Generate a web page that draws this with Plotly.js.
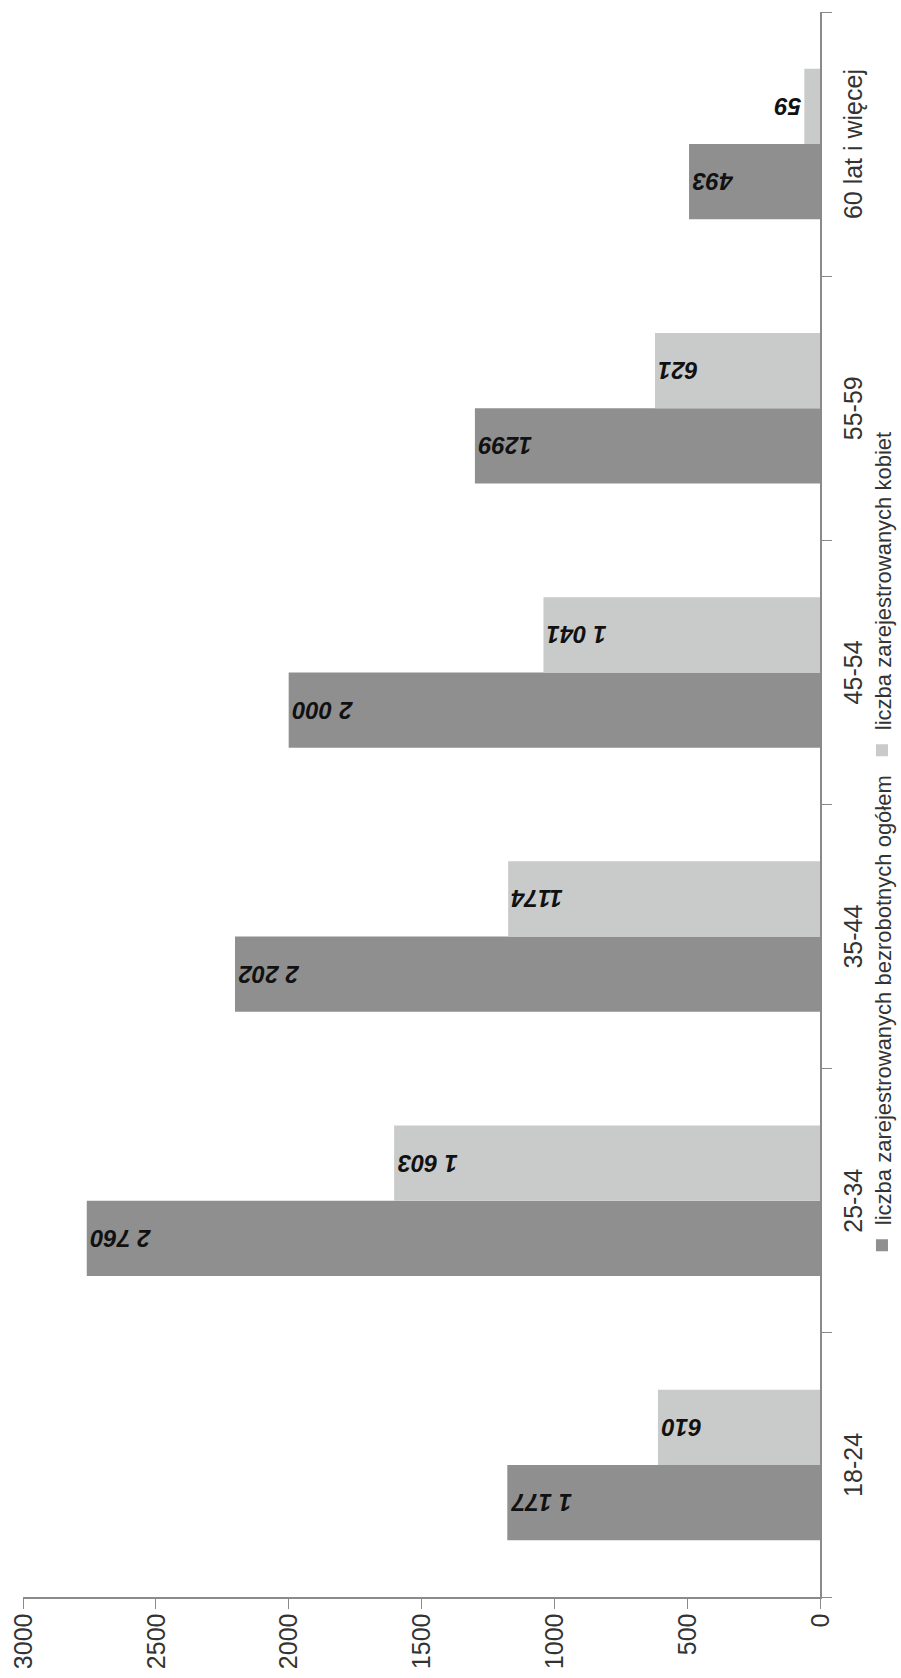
<!DOCTYPE html>
<html>
<head>
<meta charset="utf-8">
<script src="https://cdn.plot.ly/plotly-3.0.1.min.js"></script>
<style>
  html, body { margin: 0; padding: 0; background: #ffffff; overflow: hidden; }
  body { width: 901px; height: 1678px; position: relative; }
  #chart {
    position: absolute;
    left: 0px;
    top: 1678px;
    width: 1678px;
    height: 901px;
    transform: rotate(-90deg);
    transform-origin: 0 0;
  }
</style>
</head>
<body>
<div id="chart"></div>
<script>
// ---- data ----
const categories = ["18-24", "25-34", "35-44", "45-54", "55-59", "60 lat i więcej"];
const totalValues = [1177, 2760, 2202, 2000, 1299, 493];
const womenValues = [610, 1603, 1174, 1041, 621, 59];
const totalLabels = ["1 177", "2 760", "2 202", "2 000", "1299", "493"];
const womenLabels = ["610", "1 603", "1174", "1 041", "621", "59"];
const seriesNames = ["liczba zarejestrowanych bezrobotnych ogółem", "liczba zarejestrowanych kobiet"];
const valueTicks = [0, 500, 1000, 1500, 2000, 2500, 3000];

const FONT = "Liberation Sans, Arial, sans-serif";
const labelFont = { family: FONT, size: 24, color: "#111111", weight: "bold", style: "italic" };

const traces = [
  {
    type: "bar",
    name: seriesNames[0],
    x: categories,
    y: totalValues,
    text: totalLabels,
    textposition: "auto",
    insidetextanchor: "end",
    textangle: -90,
    constraintext: "none",
    textfont: labelFont,
    insidetextfont: labelFont,
    outsidetextfont: labelFont,
    marker: { color: "#8f8f8f" },
    hoverinfo: "x+y"
  },
  {
    type: "bar",
    name: seriesNames[1],
    x: categories,
    y: womenValues,
    text: womenLabels,
    textposition: "auto",
    insidetextanchor: "end",
    textangle: -90,
    constraintext: "none",
    textfont: labelFont,
    insidetextfont: labelFont,
    outsidetextfont: labelFont,
    marker: { color: "#c9cbca" },
    hoverinfo: "x+y"
  }
];

const layout = {
  width: 1678,
  height: 901,
  margin: { l: 81, r: 12, t: 23, b: 81, autoexpand: false },
  paper_bgcolor: "#ffffff",
  plot_bgcolor: "#ffffff",
  barmode: "group",
  bargap: 0.43,
  bargroupgap: 0,
  showlegend: true,
  font: { family: FONT, color: "#333333" },
  legend: {
    orientation: "h",
    x: 0.474,
    xanchor: "center",
    y: -0.078,
    yanchor: "middle",
    font: { family: FONT, size: 22, color: "#333333" },
    bgcolor: "rgba(0,0,0,0)",
    traceorder: "normal"
  },
  xaxis: {
    type: "category",
    showline: true,
    linecolor: "#8a8a8a",
    linewidth: 1.5,
    ticks: "outside",
    tickson: "boundaries",
    ticklen: 10,
    tickcolor: "#8a8a8a",
    tickfont: { family: FONT, size: 25, color: "#333333" },
    ticklabelstandoff: 10,
    tickangle: 0,
    showgrid: false,
    zeroline: false,
    fixedrange: true
  },
  yaxis: {
    range: [0, 3000],
    tickvals: valueTicks,
    ticktext: valueTicks.map(String),
    showline: true,
    linecolor: "#8a8a8a",
    linewidth: 1.5,
    ticks: "outside",
    ticklen: 10,
    tickcolor: "#8a8a8a",
    tickfont: { family: FONT, size: 25, color: "#333333" },
    showgrid: false,
    zeroline: false,
    fixedrange: true
  }
};

Plotly.newPlot("chart", traces, layout, { displayModeBar: false, staticPlot: true });
</script>
</body>
</html>
